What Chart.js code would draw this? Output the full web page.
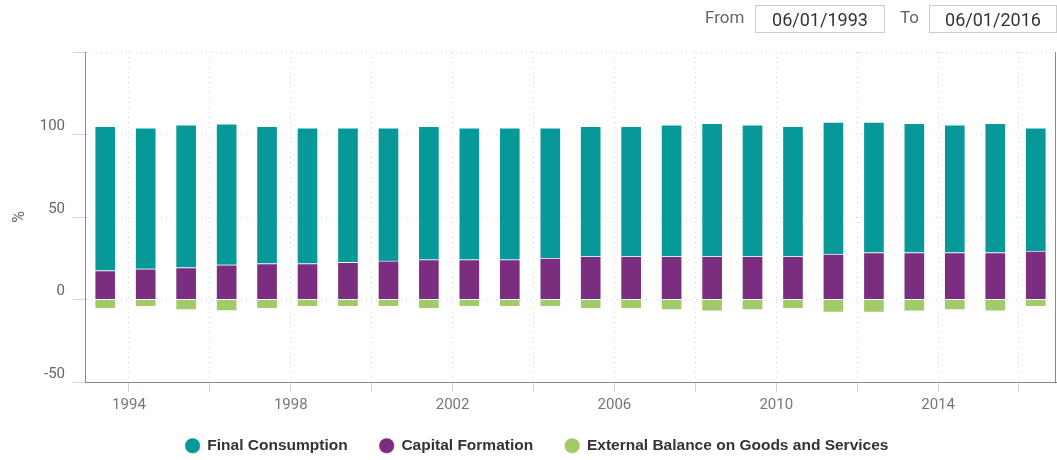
<!DOCTYPE html>
<html>
<head>
<meta charset="utf-8">
<script src="https://cdn.jsdelivr.net/npm/chart.js@4/dist/chart.umd.min.js"></script>
<style>
  html, body { margin: 0; padding: 0; background: #fff; overflow: hidden; }
  #wrap { position: relative; width: 1057px; height: 460px; }
  #wrap canvas { position: absolute; left: 0; top: 0; }
  .lbl { position: absolute; top: 7px; height: 28px; line-height: 28px; font: 17px Roboto, sans-serif; color: #666; }
  .box { position: absolute; top: 5px; height: 28px; box-sizing: border-box; border: 1px solid #ccc;
         font: 18px Roboto, sans-serif; color: #333; text-align: center; line-height: 28px; background: #fff; }
</style>
</head>
<body>
<div id="wrap">
  <canvas id="c" width="1057" height="460"></canvas>
  <div class="lbl" style="left:705px">From</div>
  <div class="box" style="left:755px;width:130px">06/01/1993</div>
  <div class="lbl" style="left:900px">To</div>
  <div class="box" style="left:929px;width:128px">06/01/2016</div>
</div>
<script>
// ---- data ----
const dates = ['06/01/1993','06/01/1994','06/01/1995','06/01/1996','06/01/1997','06/01/1998',
               '06/01/1999','06/01/2000','06/01/2001','06/01/2002','06/01/2003','06/01/2004',
               '06/01/2005','06/01/2006','06/01/2007','06/01/2008','06/01/2009','06/01/2010',
               '06/01/2011','06/01/2012','06/01/2013','06/01/2014','06/01/2015','06/01/2016'];
const finalConsumption = [87.4, 85.4, 86.5, 85.5, 83.2, 82.2, 81.4, 80.6, 80.8, 79.8, 79.8, 78.9,
                          78.9, 78.9, 79.8, 80.6, 79.8, 78.9, 80.0, 79.0, 78.2, 77.4, 78.2, 74.7];
const capitalFormation = [17.6, 18.6, 19.4, 21.0, 21.8, 21.8, 22.6, 23.4, 24.2, 24.2, 24.2, 25.1,
                          26.1, 26.1, 26.1, 26.1, 26.1, 26.1, 27.5, 28.5, 28.5, 28.5, 28.5, 29.3];
const externalBalance = [-5.5, -4.4, -6.3, -6.9, -5.5, -4.4, -4.4, -4.4, -5.5, -4.4, -4.4, -4.4,
                         -5.5, -5.5, -6.3, -7.1, -6.3, -5.5, -7.9, -7.9, -7.1, -6.3, -7.1, -4.4];
const seriesNames = ['Final Consumption', 'Capital Formation', 'External Balance on Goods and Services'];
const xTickValues = [1994, 1996, 1998, 2000, 2002, 2004, 2006, 2008, 2010, 2012, 2014, 2016];
const xTickLabels = [1994, 1998, 2002, 2006, 2010, 2014];
const yTickLabels = [-50, 0, 50, 100];
const yAxisTitle = '%';

// ---- helpers ----
function toYear(s) {
  const [m, d, y] = s.split('/').map(Number);
  const t = Date.UTC(y, m - 1, d), t0 = Date.UTC(y, 0, 1), t1 = Date.UTC(y + 1, 0, 1);
  return y + (t - t0) / (t1 - t0);
}
const xs = dates.map(toYear);
const pts = arr => arr.map((v, i) => ({ x: xs[i], y: v }));

const COLORS = { fc: '#07999A', cf: '#7B2D80', eb: '#A2CA6A' };
const font = 'Roboto, "Open Sans", sans-serif';

const framePlugin = {
  id: 'framePlugin',
  afterLayout(chart) {
    // place the legend row where the reference has it
    const lg = chart.legend;
    if (lg) { lg.left += 9; lg.right += 9; lg.top -= 8; lg.bottom -= 8; }
  },
  afterDraw(chart) {
    const { ctx, chartArea: a } = chart;
    ctx.save();
    ctx.strokeStyle = '#8a8a8a';
    ctx.lineWidth = 1;
    ctx.beginPath();
    ctx.moveTo(Math.round(a.right) - 0.5, a.top);
    ctx.lineTo(Math.round(a.right) - 0.5, a.bottom);
    ctx.stroke();
    ctx.restore();
  }
};

const legendOrder = seriesNames;

new Chart(document.getElementById('c'), {
  type: 'bar',
  data: {
    datasets: [
      { label: seriesNames[1], data: pts(capitalFormation), backgroundColor: COLORS.cf },
      { label: seriesNames[0], data: pts(finalConsumption), backgroundColor: COLORS.fc },
      { label: seriesNames[2], data: pts(externalBalance), backgroundColor: COLORS.eb }
    ].map(d => Object.assign(d, { borderColor: 'rgba(255,255,255,0.45)', borderWidth: 1, barThickness: 21 }))
  },
  plugins: [framePlugin],
  options: {
    responsive: false,
    animation: false,
    layout: { padding: { top: 52, right: 1, bottom: -11.5, left: 0 } },
    plugins: {
      tooltip: { enabled: false },
      legend: {
        position: 'bottom',
        labels: {
          usePointStyle: true,
          pointStyle: 'circle',
          boxWidth: 14,
          boxHeight: 11,
          padding: 32,
          color: '#333',
          font: { family: '"Liberation Sans", Arial, sans-serif', size: 15.5, weight: 'bold' },
          sort: (a, b) => legendOrder.indexOf(a.text) - legendOrder.indexOf(b.text)
        }
      }
    },
    scales: {
      x: {
        type: 'linear',
        stacked: true,
        offset: false,
        min: xs[0] - 0.5,
        max: xs[xs.length - 1] + 0.5,
        afterBuildTicks: s => { s.ticks = xTickValues.map(v => ({ value: v })); },
        afterFit: s => { s.height = 32; },
        ticks: {
          autoSkip: false,
          maxRotation: 0,
          padding: 4,
          color: '#777',
          font: { family: font, size: 15 },
          callback: v => xTickLabels.includes(v) ? String(v) : ''
        },
        grid: {
          offset: false,
          color: '#d6d6d6',
          tickColor: '#ccd6eb',
          tickLength: 10,
          tickBorderDash: []
        },
        border: { color: '#8a8a8a', width: 1, dash: [1, 4] }
      },
      y: {
        stacked: true,
        min: -50,
        max: 150,
        afterBuildTicks: s => { s.ticks = [-50, 0, 50, 100, 150].map(v => ({ value: v })); },
        afterFit: s => { s.width = 85; },
        ticks: {
          padding: 8,
          labelOffset: -8,
          color: '#666',
          font: { family: font, size: 15 },
          callback: v => yTickLabels.includes(v) ? String(v) : ''
        },
        grid: {
          color: '#d6d6d6',
          tickColor: '#ccd6eb',
          tickLength: 12,
          tickBorderDash: []
        },
        border: { color: '#8a8a8a', width: 1, dash: [1, 4] },
        title: {
          display: true,
          text: yAxisTitle,
          color: '#666',
          font: { family: font, size: 16 },
          padding: { top: 10, bottom: 0 }
        }
      }
    }
  }
});
</script>
</body>
</html>
